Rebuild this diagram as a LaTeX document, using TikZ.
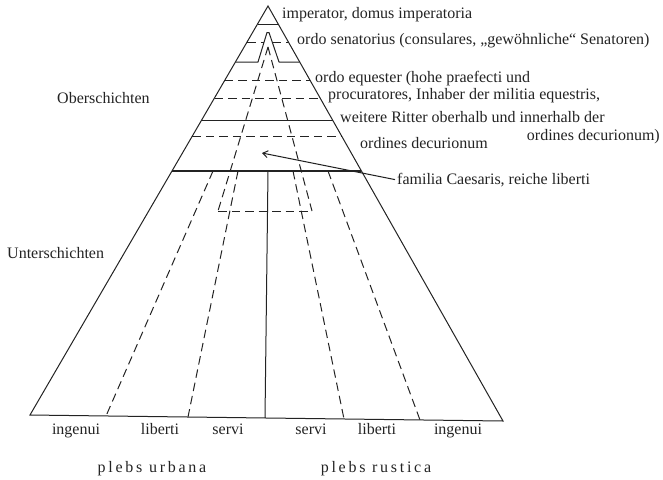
\documentclass[tikz,border=0pt]{standalone}
\usepackage{fontspec}
\setmainfont{Liberation Serif}
\usetikzlibrary{arrows.meta}
\definecolor{ink}{RGB}{35,35,35}
\begin{document}
\begin{tikzpicture}[x=1pt,y=-1pt,
  ln/.style={ink,line width=1pt},
  dsh/.style={ink,line width=1pt,dash pattern=on 8.5pt off 5pt},
  thk/.style={ink,line width=2.3pt},
  lbl/.style={font=\fontsize{16}{19}\selectfont,text=ink,inner sep=0pt,anchor=base west},
  blbl/.style={font=\fontsize{16}{19}\selectfont,text=ink,inner sep=0pt,anchor=base},
  plebs/.style={font=\fontsize{16}{19}\selectfont\addfontfeature{LetterSpace=17},text=ink,inner sep=0pt,anchor=base}
]
\useasboundingbox (0,0) rectangle (663,479);

% outer triangle
\coordinate (A) at (268,6);
\coordinate (BR) at (503,421);
\coordinate (BL) at (30,415);
\draw[ln,line join=miter] (A) -- (BR) -- (BL) -- cycle;

% imperator
\draw[ln] (257.5,24) -- (278.2,24);
% senatorius: dashed split and tower
\draw[dsh] (247.1,42) -- (263.8,42);
\draw[dsh] (272.5,42) -- (288.4,42);
\draw[ln,line join=round] (235.4,62) -- (258,62) -- (267,32.5) -- (269,32.5) -- (279,62) -- (299.7,62);
% equester
\draw[dsh] (224.9,80) -- (309.9,80);
\draw[dsh] (214.5,98) -- (320.1,98);
\draw[ln] (201.7,120) -- (332.6,120);
% decuriones
\draw[dsh] (192.4,136) -- (341.6,136);
% boundary Ober-/Unterschichten
\draw[thk] (172,171) -- (361.4,171);

% familia Caesaris triangle
\coordinate (F) at (268,47);
\coordinate (FL) at (218,211);
\coordinate (FR) at (312,211);
\draw[dsh] (F) -- (FL);
\draw[dsh] (F) -- (FR);
\draw[dsh] (FL) -- (FR);

% lower divisions
\draw[dsh] (213,171) -- (106,416);
\draw[dsh] (238,171) -- (188,417);
\draw[ln] (268,171) -- (265,418);
\draw[dsh] (293,171) -- (344,419);
\draw[dsh] (328,171) -- (420,420);

% right labels
\node[lbl] (imp) at (282,18) {imperator, domus imperatoria};
\node[lbl] (sen) at (297,44) {ordo senatorius (consulares, „gewöhnliche“ Senatoren)};
\node[lbl] (eq1) at (315,82) {ordo equester (hohe praefecti und};
\node[lbl] (eq2) at (328,99.5) {procuratores, Inhaber der militia equestris,};
\node[lbl] (eq3) at (340,122) {weitere Ritter oberhalb und innerhalb der};
\node[lbl,anchor=base east] (eq4) at (660,140) {ordines decurionum)};
\node[lbl] (dec) at (360,148) {ordines decurionum};
\node[lbl] (fam) at (397,184) {familia Caesaris, reiche liberti};
\coordinate (fc) at (262,153);
\draw[ln,-{Straight Barb[length=5pt,width=7pt]}] ([xshift=-2pt]fam.west) -- (fc);

% left labels
\node[lbl] (ober) at (57,103) {Oberschichten};
\node[lbl] (unter) at (7,258) {Unterschichten};

% bottom labels
\node[blbl] (ing1) at (76,434) {ingenui};
\node[blbl] (lib1) at (160,434) {liberti};
\node[blbl] (ser1) at (228,434) {servi};
\node[blbl] (ser2) at (311,434) {servi};
\node[blbl] (lib2) at (377,434) {liberti};
\node[blbl] (ing2) at (458,434) {ingenui};
\node[plebs] (urb) at (152,472) {plebs urbana};
\node[plebs] (rus) at (376,472) {plebs rustica};
\end{tikzpicture}
\end{document}
